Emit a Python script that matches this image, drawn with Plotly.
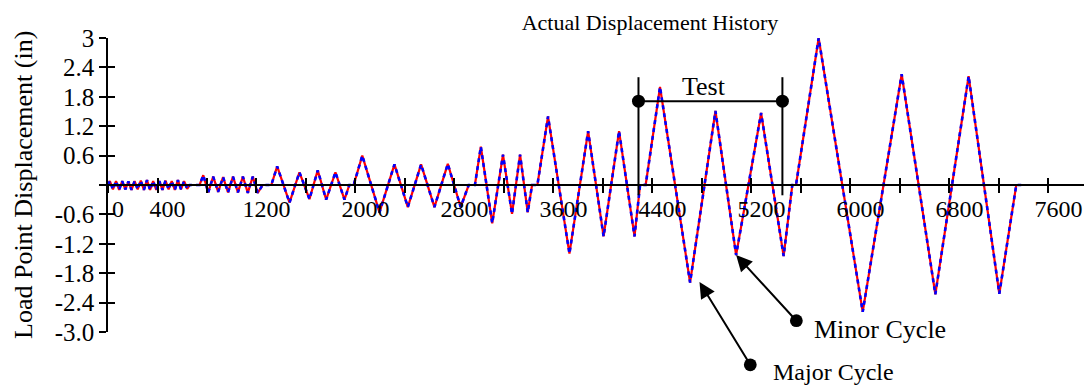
import plotly.graph_objects as go

# ---------------- data ----------------
# time index (sample number) and load point displacement (in) at each turning point
small_t = [0, 15, 40, 65, 90, 115, 140, 165, 190, 215, 240, 265, 290, 315, 340,
           365, 390, 415, 440, 465, 490, 515, 540, 565, 590, 615, 640, 660, 700]
small_d = [0, 0.08, -0.09, 0.08, -0.1, 0.08, -0.09, 0.07, -0.1, 0.08, -0.09, 0.09, -0.1, 0.1, -0.1,
           0.08, -0.1, 0.08, -0.1, 0.09, -0.09, 0.08, -0.1, 0.1, -0.09, 0.08, -0.08, 0, 0]

medium_t = [740, 770, 810, 850, 890, 930, 970, 1010, 1050, 1090, 1130, 1170, 1210, 1250, 1320]
medium_d = [0, 0.2, -0.15, 0.17, -0.14, 0.16, -0.15, 0.17, -0.15, 0.17, -0.16, 0.17, -0.16, 0, 0]

stage1_t = [1367, 1467, 1547, 1628, 1695, 1763, 1838, 1911, 1950, 1985]
stage1_d = [0.38, -0.36, 0.26, -0.29, 0.30, -0.30, 0.26, -0.30, 0, 0]

stage2_t = [2055, 2194, 2315, 2423, 2530, 2638, 2746, 2850, 2915, 2965]
stage2_d = [0.6, -0.56, 0.42, -0.45, 0.42, -0.45, 0.43, -0.45, 0, 0]

stage3_t = [3013, 3105, 3192, 3265, 3330, 3392, 3427, 3470]
stage3_d = [0.78, -0.78, 0.62, -0.59, 0.62, -0.56, 0, 0]

stage4_t = [3556, 3729, 3880, 4005, 4130, 4255, 4300, 4345]
stage4_d = [1.4, -1.4, 1.1, -1.05, 1.1, -1.05, 0, 0]

test_t = [4461, 4704, 4909, 5076, 5278, 5460, 5530, 5560]
test_d = [2.0, -1.99, 1.51, -1.43, 1.47, -1.45, 0, 0]

final_t = [5743, 6099, 6414, 6686, 6955, 7203, 7340, 7380]
final_d = [3.0, -2.59, 2.26, -2.23, 2.22, -2.22, 0, 0]

time_index = small_t + medium_t + stage1_t + stage2_t + stage3_t + stage4_t + test_t + final_t
command_disp = small_d + medium_d + stage1_d + stage2_d + stage3_d + stage4_d + test_d + final_d
actual_disp = list(command_disp)

x_tick_vals = [0, 400, 800, 1200, 1600, 2000, 2400, 2800, 3200, 3600, 4000,
               4400, 4800, 5200, 5600, 6000, 6400, 6800, 7200, 7600]
x_tick_text = ["0", "400", "", "1200", "", "2000", "", "2800", "", "3600", "",
               "4400", "", "5200", "", "6000", "", "6800", "", "7600"]
y_tick_vals = [3, 2.4, 1.8, 1.2, 0.6, 0, -0.6, -1.2, -1.8, -2.4, -3.0]
y_tick_text = ["3", "2.4", "1.8", "1.2", "0.6", "", "-0.6", "-1.2", "-1.8", "-2.4", "-3.0"]

# annotation anchors (data coordinates)
test_window = [4287, 5450]
test_bar_y = 1.71
test_line_y = [-0.21, 2.2]
minor_head, minor_tail = (5076, -1.43), (5574, -2.80)
major_head, major_tail = (4780, -1.98), (5198, -3.70)

X_RANGE = [0, 7952]
Y_RANGE = [-3, 3]
FONT = "Liberation Serif"

# page body adds an 8px margin; figure is sized so the whole page is 1092x387
FIG_W, FIG_H = 1084, 379
M_L, M_R, M_T, M_B = 100, 0, 30, 55
PLOT_W = FIG_W - M_L - M_R
PLOT_H = FIG_H - M_T - M_B

fig = go.Figure()
fig.add_trace(go.Scatter(x=time_index, y=actual_disp, mode="lines",
                         line=dict(color="#ff0000", width=2.2), cliponaxis=False,
                         showlegend=False, hoverinfo="skip"))
fig.add_trace(go.Scatter(x=time_index, y=command_disp, mode="lines",
                         line=dict(color="#0000ff", width=2.6, dash="4px,4px"), cliponaxis=False,
                         showlegend=False, hoverinfo="skip"))
# Test bracket
fig.add_trace(go.Scatter(x=test_window, y=[test_bar_y, test_bar_y], mode="lines+markers",
                         line=dict(color="black", width=2), marker=dict(color="black", size=13),
                         cliponaxis=False, showlegend=False, hoverinfo="skip"))
# helper traces to create the overlay axes (for ticks crossing the axis lines)
fig.add_trace(go.Scatter(x=[None], y=[None], xaxis="x2", yaxis="y", showlegend=False, hoverinfo="skip"))
fig.add_trace(go.Scatter(x=[None], y=[None], xaxis="x", yaxis="y2", showlegend=False, hoverinfo="skip"))

for xv in test_window:
    fig.add_shape(type="line", x0=xv, x1=xv, y0=test_line_y[0], y1=test_line_y[1],
                  xref="x", yref="y", line=dict(color="black", width=2))

common_x = dict(range=X_RANGE, showgrid=False, zeroline=False, tickvals=x_tick_vals,
                ticklen=7, tickwidth=1.5, tickcolor="black", anchor="free", position=0.5,
                automargin=False)
common_y = dict(range=Y_RANGE, showgrid=False, zeroline=False, tickvals=y_tick_vals,
                ticklen=7, tickwidth=1.5, tickcolor="black", automargin=False)

fig.update_layout(
    width=FIG_W, height=FIG_H,
    margin=dict(l=M_L, r=M_R, t=M_T, b=M_B, pad=0),
    paper_bgcolor="white", plot_bgcolor="white",
    font=dict(family=FONT, color="black"),
    title=dict(text="Actual Displacement History", font=dict(family=FONT, size=22, color="black"),
               x=642 / FIG_W, xanchor="center", xref="container",
               y=1 - 14 / FIG_H, yanchor="middle", yref="container"),
    xaxis=dict(**common_x, ticks="outside", ticktext=x_tick_text,
               tickfont=dict(family=FONT, size=24, color="black"),
               ticklabelshift=10, ticklabelstandoff=-5,
               showline=True, linecolor="black", linewidth=1.5),
    xaxis2=dict(**common_x, ticks="inside", overlaying="x", showticklabels=False, showline=False),
    yaxis=dict(**common_y, ticks="outside", ticktext=y_tick_text,
               tickfont=dict(family=FONT, size=25, color="black"),
               showline=True, linecolor="black", linewidth=1.5, anchor="x"),
    yaxis2=dict(**common_y, ticks="inside", overlaying="y", side="left", anchor="x",
                showticklabels=False, showline=False),
    showlegend=False,
)

annotations = [
    dict(text="Load Point Displacement (in)", textangle=-90, xref="paper", yref="paper",
         x=(15 - M_L) / PLOT_W, y=0.5, xanchor="center", yanchor="middle", showarrow=False,
         font=dict(family=FONT, size=26, color="black")),
    dict(text="Test", xref="x", yref="y", x=4820, y=2.01, showarrow=False,
         xanchor="center", yanchor="middle", font=dict(family=FONT, size=26, color="black")),
    dict(text="Minor Cycle", xref="x", yref="y", x=5691, y=-2.94, showarrow=False,
         xanchor="left", yanchor="middle", font=dict(family=FONT, size=26, color="black")),
    dict(text="Major Cycle", xref="x", yref="paper", x=5360, y=(M_T + PLOT_H - 364) / PLOT_H,
         showarrow=False, xanchor="left", yanchor="middle",
         font=dict(family=FONT, size=24, color="black")),
]
for head, tail in [(minor_head, minor_tail), (major_head, major_tail)]:
    annotations.append(dict(text="", xref="x", yref="y", x=head[0], y=head[1],
                            axref="x", ayref="y", ax=tail[0], ay=tail[1], showarrow=True,
                            arrowhead=2, arrowsize=1.6, arrowwidth=2, arrowcolor="black",
                            arrowside="end+start", startarrowhead=6, startarrowsize=1.6))
fig.update_layout(annotations=annotations)

fig.write_html("out.html")
